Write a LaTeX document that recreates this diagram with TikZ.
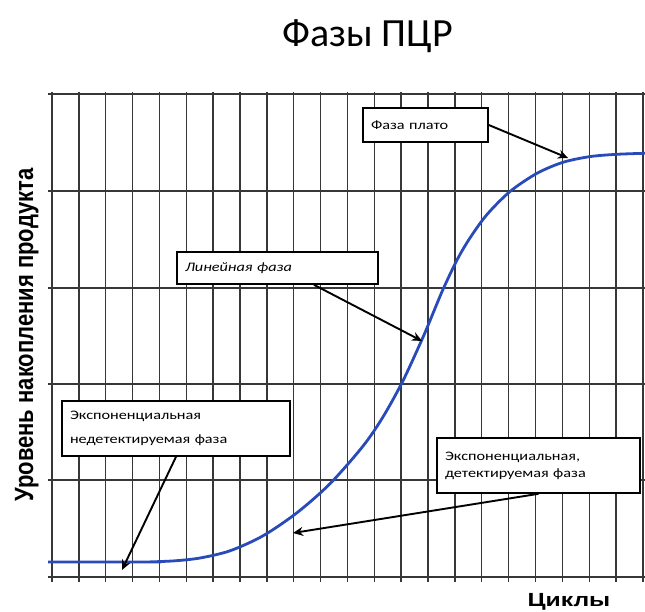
\documentclass[tikz,border=0pt]{standalone}
\usepackage{graphicx}
\usepackage{fontspec}
\setmainfont{Carlito}
\newfontfamily\boxfont[FakeStretch=1.25]{Carlito}
\newfontfamily\axisfont{Liberation Sans}
\newfontfamily\cycfont[FakeStretch=1.3]{Liberation Sans}
\usetikzlibrary{arrows.meta,calc}
\definecolor{curveblue}{RGB}{40,75,185}
\definecolor{gridgray}{RGB}{55,55,55}
\tikzset{
  gridline/.style={draw=gridgray, line width=1.4pt},
  pcrcurve/.style={draw=curveblue, line width=2.8pt},
  callout/.style={-{Stealth[length=10pt,width=9pt]}, line width=1.9pt, black},
  phasebox/.style={draw=black, fill=white, line width=1.6pt, inner xsep=8pt, inner ysep=3pt, align=left},
}
\begin{document}
\begin{tikzpicture}[x=1pt,y=-1pt]
\useasboundingbox[fill=white] (0,0) rectangle (645,612);

% grid
\foreach \yy in {94,191,288,384,480,577}
  \draw[gridline] (48,\yy) -- (645,\yy);
\foreach \i in {0,...,22}
  \draw[gridline] ({52+\i*26.86},92) -- ({52+\i*26.86},582);

% curve
\draw[pcrcurve] plot[smooth, tension=0.5] coordinates {
  (48,562) (140,562) (150,561.9) (175,560.8) (200,558) (230,550.8) (263,535.8)
  (297,512.7) (330,483.7) (363,446.1) (383,416.9) (403,380.7) (423,337.2)
  (433,313.3) (443,289.4) (457,260) (470,237.9) (487,214.5) (510,191.5)
  (537,173.3) (563,162.3) (590,156.6) (617,154.3) (645,153.3)};

% title and axis labels
\node[anchor=base, font=\fontsize{40}{48}\selectfont] (title) at (367.5,47) {Фазы ПЦР};
\node[rotate=90, anchor=base, font=\axisfont\bfseries\fontsize{22}{26}\selectfont] (ylab) at (33,335)
  {\scalebox{1}[1.2]{Уровень накопления продукта}};
\node[anchor=base, font=\cycfont\bfseries\fontsize{19}{24}\selectfont] (xlab) at (569,606) {Циклы};

% arrow tips
\coordinate (tplato) at (568,158);
\coordinate (tlin) at (422,341);
\coordinate (tned) at (122,570);
\coordinate (tdet) at (293,533);

% boxes
\node[phasebox, text width=109pt, minimum height=34pt, font=\boxfont\fontsize{13}{17}\selectfont] (plato) at (425.5,125) {Фаза плато};
\node[phasebox, text width=185pt, minimum height=32pt, font=\boxfont\itshape\fontsize{13}{17}\selectfont] (lin) at (277.5,268) {Линейная фаза};
\node[phasebox, text width=212pt, minimum height=55pt, font=\boxfont\fontsize{13}{24}\selectfont] (ned) at (176,428.5) {Экспоненциальная\\недетектируемая фаза};
\node[phasebox, text width=187pt, minimum height=55pt, font=\boxfont\fontsize{13}{17}\selectfont] (det) at (538.5,465.5) {Экспоненциальная,\\детектируемая фаза};

% connectors
\draw[callout] (plato.east) -- (tplato);
\draw[callout] ($(lin.south west)!0.68!(lin.south east)$) -- (tlin);
\draw[callout] (ned.south) -- (tned);
\draw[callout] (det.south) -- (tdet);
\end{tikzpicture}
\end{document}
